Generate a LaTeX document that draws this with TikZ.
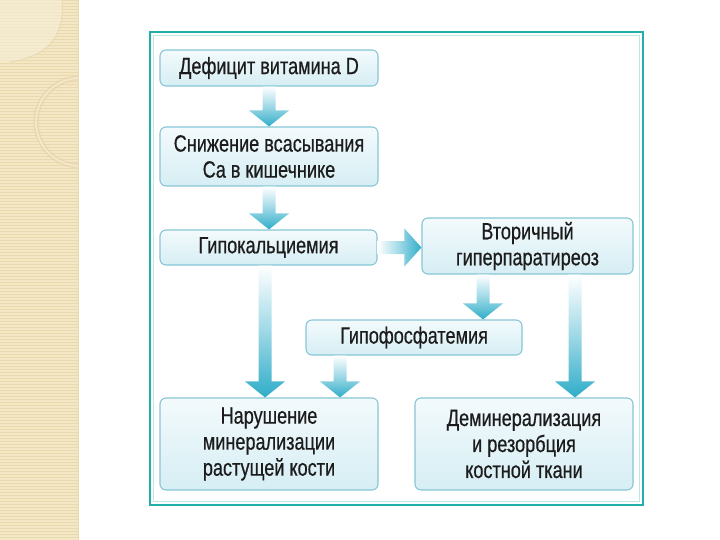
\documentclass[tikz,border=0pt]{standalone}
\usepackage{fontspec}
\setmainfont{Liberation Sans}
\newfontfamily\condfont[FakeStretch=0.77,FakeBold=0.6]{Liberation Sans}
\usetikzlibrary{calc}
\definecolor{arrc}{HTML}{2FADC8}
\definecolor{arrm}{HTML}{9ED8E6}
\definecolor{boxborder}{HTML}{86C6D6}
\definecolor{boxtop}{HTML}{F3FAFC}
\definecolor{boxbot}{HTML}{D6EEF4}
\definecolor{framec}{HTML}{22AFA8}
\definecolor{txt}{HTML}{1C1C1C}
\definecolor{beige}{HTML}{F3E7C6}
\definecolor{beigeline}{HTML}{E9DAAE}
\definecolor{beigelight}{HTML}{F7EFD8}
\tikzset{
  box/.style={draw=boxborder, line width=1.1pt, rounded corners=6pt,
    top color=boxtop, bottom color=boxbot, align=center,
    font=\condfont\fontsize{23.5}{26}\selectfont, text=txt, inner sep=0pt},
}
\newcommand\varr[2]{\shade[top color=white, bottom color=arrc, middle color=arrm] let \p1=#1, \p2=#2 in
  (\x1-6.5pt,\y1) -- (\x1+6.5pt,\y1) -- (\x1+6.5pt,\y2+16pt) -- (\x1+20pt,\y2+16pt) -- (\x1,\y2) -- (\x1-20pt,\y2+16pt) -- (\x1-6.5pt,\y2+16pt) -- cycle;}
\newcommand\harr[2]{\shade[left color=white, right color=arrc, middle color=arrm] let \p1=#1, \p2=#2 in
  (\x1,\y1+6.5pt) -- (\x1,\y1-6.5pt) -- (\x2-17pt,\y1-6.5pt) -- (\x2-17pt,\y1-19pt) -- (\x2,\y1) -- (\x2-17pt,\y1+19pt) -- (\x2-17pt,\y1+6.5pt) -- cycle;}
\begin{document}
\begin{tikzpicture}[x=1pt,y=-1pt]
\useasboundingbox (0,0) rectangle (720,540);
\fill[white] (0,0) rectangle (720,540);
% left decorative strip
\begin{scope}
\clip (0,0) rectangle (78,540);
\fill[beige] (0,0) rectangle (78,540);
\foreach \i in {0,3,...,540} {\draw[beigeline, line width=0.7pt] (0,\i) -- (78,\i);}
\fill[beigelight, opacity=0.6] (0,0) -- (62,0) .. controls (64,30) and (55,55) .. (10,62) -- (0,62) -- cycle;
\draw[beigeline!80!brown, line width=0.6pt, opacity=0.6] (62,0) .. controls (64,30) and (55,55) .. (10,62);
\draw[beigeline!85!brown, line width=5pt, opacity=0.5] (80,122) circle (44);
\draw[beigelight, line width=2pt, opacity=0.7] (80,122) circle (44);
\end{scope}
\draw[beigeline, line width=0.8pt] (78,0) -- (78,540);
% frame
\draw[framec, line width=2pt] (150,32) rectangle (643,505);
\draw[framec!30, line width=0.6pt] (153.5,35.5) rectangle (639.5,501.5);
% nodes
\node[box, minimum width=218pt, minimum height=36pt] (n1) at (269,68) {Дефицит витамина D};
\node[box, minimum width=218pt, minimum height=59pt] (n2) at (269,156.5) {Снижение всасывания\\Ca в кишечнике};
\node[box, minimum width=217pt, minimum height=35pt] (n3) at (268.5,247.5) {Гипокальциемия};
\node[box, minimum width=211pt, minimum height=56pt] (n4) at (527.5,246) {Вторичный\\гиперпаратиреоз};
\node[box, minimum width=216pt, minimum height=35pt] (n5) at (414,337.5) {Гипофосфатемия};
\node[box, minimum width=218pt, minimum height=92pt] (n6) at (269,444) {Нарушение\\минерализации\\растущей кости};
\node[box, minimum width=218pt, minimum height=92pt] (n7) at (524,444) {Деминерализация\\и резорбция\\костной ткани};
% arrows
\varr{(n1.south)}{(n2.north)}
\varr{(n2.south)}{(n3.north)}
\harr{(n3.east)}{(n4.west)}
\varr{([xshift=-3.5pt]n3.south)}{([xshift=-4pt]n6.north)}
\varr{([xshift=-44.5pt]n4.south)}{([xshift=69pt]n5.north)}
\varr{([xshift=-74pt]n5.south)}{([xshift=71pt]n6.north)}
\varr{([xshift=47.5pt]n4.south)}{([xshift=51pt]n7.north)}
\end{tikzpicture}
\end{document}
